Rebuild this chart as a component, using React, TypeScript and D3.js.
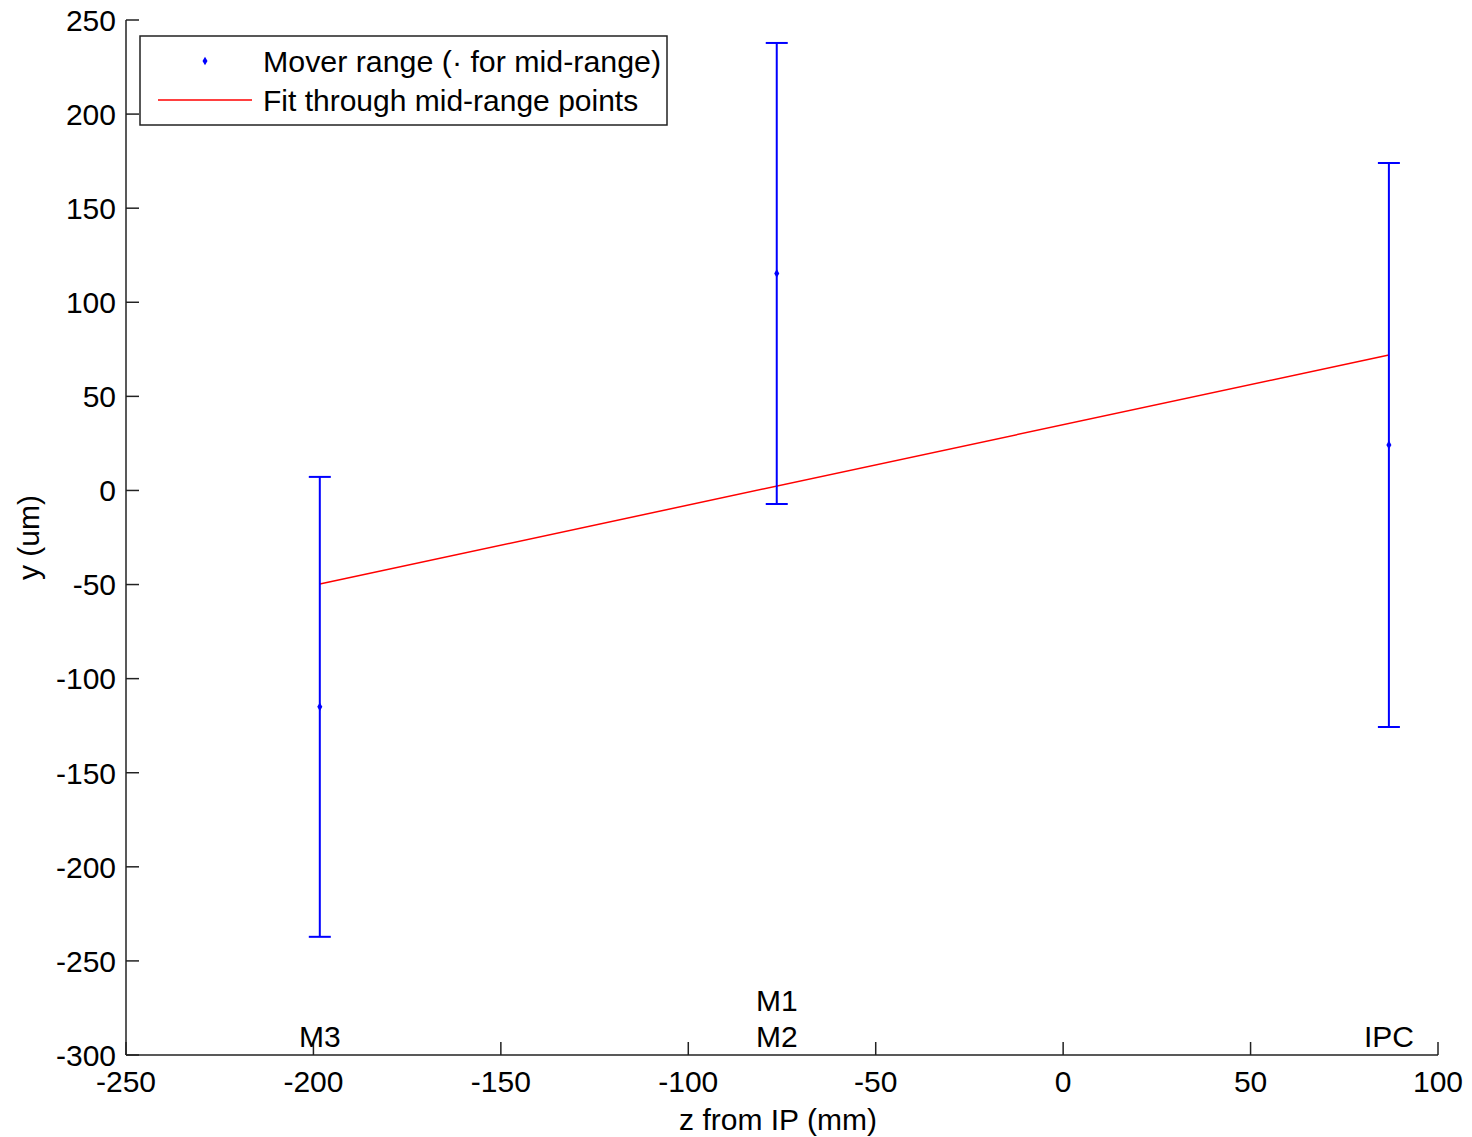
import React from "react";
import * as d3 from "d3";

const W = 1472;
const H = 1137;

// Data
const stationNames = ["M3", "M1\nM2", "IPC"];
const stationZ = [-198.3, -76.4, 86.9];
const rangeLow = [-237.2, -7.2, -125.7];
const rangeHigh = [7.2, 237.8, 174.0];
const midRange = [-115.0, 115.3, 24.2];
const fitZ = [-198.3, 86.9];
const fitY = [-49.7, 72.0];
const xTicks = [-250, -200, -150, -100, -50, 0, 50, 100];
const yTicks = [250, 200, 150, 100, 50, 0, -50, -100, -150, -200, -250, -300];
const legendLabels = ["Mover range (\u00b7 for mid-range)", "Fit through mid-range points"];

const FONT = "'Liberation Sans', Arial, Helvetica, sans-serif";
const FS = 30;

export default function App() {
  const left = 126, right = 1438, top = 20, bottom = 1055;
  const x = d3.scaleLinear().domain([-250, 100]).range([left, right]);
  const y = d3.scaleLinear().domain([-300, 250]).range([bottom, top]);
  const tickLen = 13;
  const capHalf = 11;
  const fitLine = d3.line<number>().x((_, i) => x(fitZ[i])).y((d) => y(d));
  const diamond = d3.symbol().type(d3.symbolDiamond).size(22)() || "";

  return (
    <svg
      width={W}
      height={H}
      style={{ position: "absolute", left: 0, top: 0, background: "#fff" }}
      fontFamily={FONT}
    >
      <rect x={0} y={0} width={W} height={H} fill="#fff" />
      {/* axes */}
      <line x1={left} y1={top} x2={left} y2={bottom} stroke="#222" strokeWidth={1.5} />
      <line x1={left} y1={bottom} x2={right} y2={bottom} stroke="#222" strokeWidth={1.5} />
      {yTicks.map((t) => (
        <g key={"y" + t}>
          <line x1={left} x2={left + tickLen} y1={y(t)} y2={y(t)} stroke="#222" strokeWidth={1.5} />
          <text x={left - 10} y={y(t)} dy="0.36em" textAnchor="end" fontSize={FS} fill="#000">
            {t}
          </text>
        </g>
      ))}
      {xTicks.map((t) => (
        <g key={"x" + t}>
          <line x1={x(t)} x2={x(t)} y1={bottom} y2={bottom - tickLen} stroke="#222" strokeWidth={1.5} />
          <text x={x(t)} y={bottom + 37} textAnchor="middle" fontSize={FS} fill="#000">
            {t}
          </text>
        </g>
      ))}
      <text x={(left + right) / 2 - 4} y={1130} textAnchor="middle" fontSize={FS} fill="#000">
        z from IP (mm)
      </text>
      <text
        transform={`translate(39,${(top + bottom) / 2}) rotate(-90)`}
        textAnchor="middle"
        fontSize={FS}
        fill="#000"
      >
        y (um)
      </text>

      {/* station labels */}
      {stationNames.map((n, i) => {
        const lines = n.split("\n");
        return (
          <g key={"s" + i}>
            {lines.map((ln, j) => (
              <text
                key={j}
                x={x(stationZ[i])}
                y={bottom - 8 - (lines.length - 1 - j) * 36}
                textAnchor="middle"
                fontSize={FS}
                fill="#000"
              >
                {ln}
              </text>
            ))}
          </g>
        );
      })}

      {/* fit line */}
      <path d={fitLine(fitY) || ""} fill="none" stroke="#ff0000" strokeWidth={1.5} />

      {/* error bars */}
      {stationZ.map((z, i) => (
        <g key={"e" + i} stroke="#0000ff" strokeWidth={2}>
          <line x1={x(z)} x2={x(z)} y1={y(rangeLow[i])} y2={y(rangeHigh[i])} />
          <line x1={x(z) - capHalf} x2={x(z) + capHalf} y1={y(rangeLow[i])} y2={y(rangeLow[i])} />
          <line x1={x(z) - capHalf} x2={x(z) + capHalf} y1={y(rangeHigh[i])} y2={y(rangeHigh[i])} />
          <path d={diamond} transform={`translate(${x(z)},${y(midRange[i])})`} fill="#0000ff" stroke="none" />
        </g>
      ))}

      {/* legend */}
      <rect x={140} y={36} width={527} height={89} fill="#fff" stroke="#222" strokeWidth={1.5} />
      <path d={diamond} transform="translate(205,61)" fill="#0000ff" />
      <line x1={158} x2={252} y1={100} y2={100} stroke="#ff0000" strokeWidth={1.5} />
      <text x={263} y={72} fontSize={FS} fill="#000" textLength={398} lengthAdjust="spacingAndGlyphs">
        {legendLabels[0]}
      </text>
      <text x={263} y={111} fontSize={FS} fill="#000">
        {legendLabels[1]}
      </text>
    </svg>
  );
}
